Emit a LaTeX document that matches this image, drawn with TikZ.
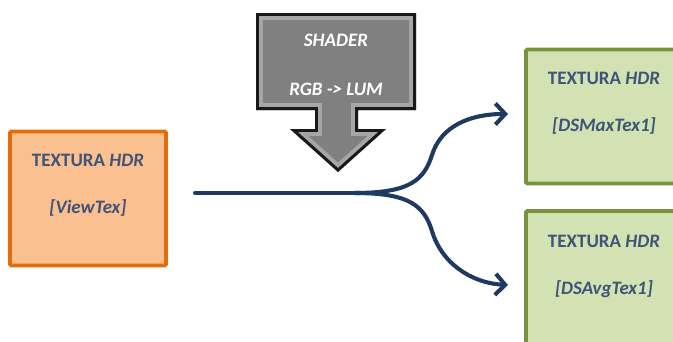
\documentclass[tikz,border=0pt]{standalone}
\usepackage{fontspec}
\setmainfont{Carlito}
\usetikzlibrary{positioning,arrows.meta}

\definecolor{txtblue}{HTML}{3F5478}
\definecolor{flowblue}{HTML}{1F3A60}
\definecolor{hdrorange}{HTML}{FAC090}
\definecolor{hdrorangeline}{HTML}{E46C0A}
\definecolor{hdrgreen}{HTML}{D2E2B3}
\definecolor{hdrgreenline}{HTML}{77933C}

\tikzset{
  texbox/.style={draw,line width=2.8pt,rounded corners=1pt,minimum width=156*0.025cm,minimum height=134*0.025cm,inner sep=0pt},
  texlabel/.style={text=txtblue,font=\fontsize{13.5}{16}\bfseries,inner sep=0pt},
  shaderlabel/.style={text=white,font=\fontsize{13.5}{16}\bfseries\itshape,inner sep=0pt},
  flow/.style={draw=flowblue,line width=2.9pt,line cap=round,-{Straight Barb[length=7pt,width=15pt,line width=2.9pt]}}
}

\def\shaderpath{(256,13) -- (416,13) -- (416,110) -- (358,110) -- (358,129) -- (386,129) -- (338,172) -- (290,129) -- (315,129) -- (315,110) -- (256,110) -- cycle}

\begin{document}
\begin{tikzpicture}[x=0.025cm,y=-0.025cm]
\useasboundingbox (0,0) rectangle (673,342);
\clip (0,0) rectangle (673,342);

\node[texbox,fill=hdrorange,draw=hdrorangeline] (view) at (88,198.5) {};
\node[texbox,fill=hdrgreen,draw=hdrgreenline] (max) at (604,116.5) {};
\node[texbox,fill=hdrgreen,draw=hdrgreenline] (avg) at (604,278) {};

\node[texlabel] (view1) at (88,160) {TEXTURA \textit{HDR}};
\node[texlabel,below=33*0.025cm of view1] (view2) {\textit{[ViewTex]}};
\node[texlabel] (max1) at (604,78) {TEXTURA \textit{HDR}};
\node[texlabel,below=33*0.025cm of max1] (max2) {\textit{[DSMaxTex1]}};
\node[texlabel] (avg1) at (604,241) {TEXTURA \textit{HDR}};
\node[texlabel,below=33*0.025cm of avg1] (avg2) {\textit{[DSAvgTex1]}};

% shader block with bevelled frame
\begin{scope}
\clip \shaderpath;
\fill[black!50] \shaderpath;
\draw[black!35,line width=9.9pt,line join=miter] \shaderpath;
\draw[black!90,line width=4.2pt,line join=miter] \shaderpath;
\end{scope}
\node[shaderlabel] (sh1) at (336,40) {SHADER};
\node[shaderlabel] (sh2) at (336,89) {RGB -> LUM};

\coordinate (start) at (195,193);
\coordinate (fork) at (355,193);
\coordinate (tomax) at (508,114);
\coordinate (toavg) at (508,285);

\draw[flow,-] (start) -- (fork);
\draw[flow] (fork) .. controls (410,193) and (424,180) .. (432,155) .. controls (441,126) and (470,114) .. (tomax);
\draw[flow] (fork) .. controls (410,193) and (424,206) .. (432,231) .. controls (441,262) and (470,283) .. (toavg);
\end{tikzpicture}
\end{document}
